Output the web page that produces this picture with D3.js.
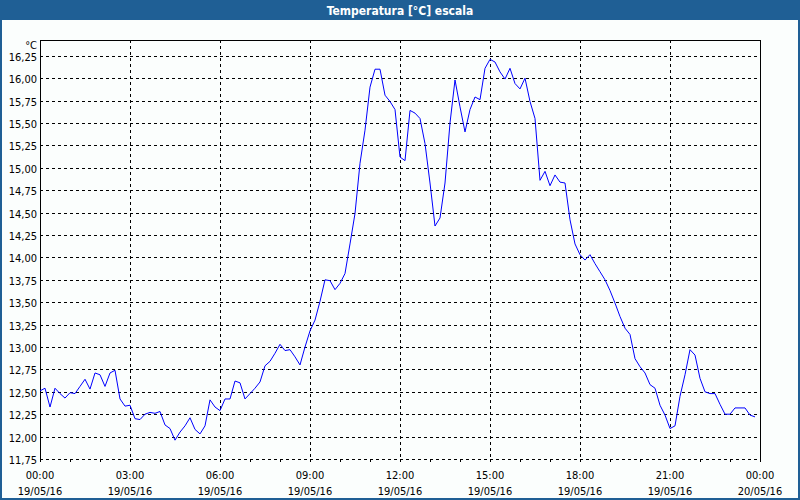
<!DOCTYPE html>
<html>
<head>
<meta charset="utf-8">
<script src="https://cdn.jsdelivr.net/npm/d3@7"></script>
<style>
  html, body { margin: 0; padding: 0; background: #fbfefd; }
  svg { display: block; }
  text { font-family: "DejaVu Sans Condensed", "DejaVu Sans", sans-serif; }
</style>
</head>
<body>
<svg id="chart" width="800" height="500"></svg>
<script>
// ---- data ----
const title = "Temperatura [°C] escala";
const unitLabel = "°C";
const startTime = "2016-05-19T00:00:00";
const stepMinutes = 10;
const temperature = [
  12.51, 12.54, 12.33, 12.54, 12.48, 12.43, 12.49, 12.48, 12.56, 12.64, 12.53, 12.71,
  12.69, 12.56, 12.71, 12.74, 12.42, 12.34, 12.35, 12.20, 12.19, 12.25, 12.27, 12.26,
  12.28, 12.13, 12.09, 11.96, 12.05, 12.12, 12.21, 12.08, 12.03, 12.12, 12.41, 12.33,
  12.29, 12.42, 12.42, 12.62, 12.60, 12.42, 12.48, 12.54, 12.61, 12.79, 12.84, 12.93,
  13.03, 12.96, 12.97, 12.89, 12.80, 13.00, 13.18, 13.30, 13.51, 13.75, 13.74, 13.64,
  13.71, 13.82, 14.15, 14.49, 15.05, 15.42, 15.90, 16.10, 16.10, 15.81, 15.74, 15.65,
  15.12, 15.08, 15.64, 15.61, 15.55, 15.27, 14.83, 14.35, 14.44, 14.83, 15.50, 15.98,
  15.68, 15.40, 15.65, 15.79, 15.76, 16.11, 16.21, 16.18, 16.07, 15.99, 16.11, 15.94,
  15.88, 16.00, 15.74, 15.55, 14.86, 14.96, 14.80, 14.92, 14.84, 14.83, 14.42, 14.15,
  14.03, 13.97, 14.03, 13.93, 13.84, 13.75, 13.63, 13.49, 13.34, 13.21, 13.14, 12.87,
  12.78, 12.71, 12.58, 12.54, 12.35, 12.24, 12.09, 12.12, 12.45, 12.69, 12.97, 12.91,
  12.65, 12.50, 12.48, 12.48, 12.36, 12.25, 12.25, 12.32, 12.32, 12.32, 12.24, 12.22
];
const yTicks = [11.75, 12.00, 12.25, 12.50, 12.75, 13.00, 13.25, 13.50, 13.75, 14.00,
                14.25, 14.50, 14.75, 15.00, 15.25, 15.50, 15.75, 16.00, 16.25];
const xTickTimes = ["00:00", "03:00", "06:00", "09:00", "12:00", "15:00", "18:00", "21:00", "00:00"];
const xTickDates = ["19/05/16", "19/05/16", "19/05/16", "19/05/16", "19/05/16", "19/05/16", "19/05/16", "19/05/16", "20/05/16"];

// ---- chart ----
const svg = d3.select("#chart");
const W = 800, H = 500;
const plot = { left: 40, right: 760, top: 40, bottom: 459 };
const blue = "#1f5f95";

const t0 = new Date(startTime);
const t1 = d3.timeDay.offset(t0, 1);
const data = temperature.map((v, i) => ({ t: d3.timeMinute.offset(t0, i * stepMinutes), v }));

const x = d3.scaleTime().domain([t0, t1]).range([plot.left, plot.right]);
const y = d3.scaleLinear().domain([11.75, 16.426]).range([plot.bottom, plot.top]);

// background + window frame
svg.append("rect").attr("width", W).attr("height", H).attr("fill", "#fbfefd");
svg.append("rect").attr("x", 0).attr("y", 0).attr("width", W).attr("height", 20).attr("fill", blue);
svg.append("rect").attr("x", 0).attr("y", 0).attr("width", 2).attr("height", H).attr("fill", blue);
svg.append("rect").attr("x", W - 2).attr("y", 0).attr("width", 2).attr("height", H).attr("fill", blue);
svg.append("rect").attr("x", 0).attr("y", H - 2).attr("width", W).attr("height", 2).attr("fill", blue);

svg.append("text").attr("x", W / 2).attr("y", 14.5).attr("text-anchor", "middle")
  .attr("fill", "#ffffff").attr("font-weight", "bold").attr("font-size", 12).text(title);

// horizontal grid
const grid = svg.append("g").attr("shape-rendering", "crispEdges");
grid.selectAll("line.h").data(yTicks).join("line").attr("class", "h")
  .attr("x1", plot.left).attr("x2", plot.right)
  .attr("y1", d => Math.round(y(d)) + 0.5).attr("y2", d => Math.round(y(d)) + 0.5)
  .attr("stroke", "#000").attr("stroke-dasharray", "3,3");

// vertical grid (every 3 hours)
const xMajor = d3.timeHour.every(3).range(t0, d3.timeMinute.offset(t1, 1));
grid.selectAll("line.v").data(xMajor.filter(d => +d !== +t0 && +d !== +t1)).join("line").attr("class", "v")
  .attr("x1", d => Math.round(x(d)) + 0.5).attr("x2", d => Math.round(x(d)) + 0.5)
  .attr("y1", plot.top).attr("y2", plot.bottom)
  .attr("stroke", "#000").attr("stroke-dasharray", "3,3");

// frame: left, top, right solid
grid.append("path")
  .attr("d", `M${plot.left + 0.5},${plot.bottom + 3}V${plot.top + 0.5}H${plot.right + 0.5}V${plot.bottom + 1}`)
  .attr("fill", "none").attr("stroke", "#000");

// hourly tick marks below the axis
const xMinor = d3.timeHour.every(1).range(t0, d3.timeMinute.offset(t1, 1));
grid.selectAll("line.tk").data(xMinor).join("line").attr("class", "tk")
  .attr("x1", d => Math.round(x(d)) + 0.5).attr("x2", d => Math.round(x(d)) + 0.5)
  .attr("y1", plot.bottom).attr("y2", plot.bottom + 3)
  .attr("stroke", "#000");

// y labels
svg.append("g").selectAll("text").data(yTicks).join("text")
  .attr("x", 37).attr("y", d => Math.round(y(d)) + 4.5)
  .attr("text-anchor", "end").attr("font-size", 11).attr("fill", "#000")
  .text(d => d3.format(".2f")(d).replace(".", ","));
svg.append("text").attr("x", 37).attr("y", 49).attr("text-anchor", "end")
  .attr("font-size", 11).attr("fill", "#000").text(unitLabel);

// x labels
const xl = svg.append("g");
xl.selectAll("text.tm").data(xMajor).join("text").attr("class", "tm")
  .attr("x", d => x(d)).attr("y", 479).attr("text-anchor", "middle")
  .attr("font-size", 11).attr("fill", "#000").text((d, i) => xTickTimes[i]);
xl.selectAll("text.dt").data(xMajor).join("text").attr("class", "dt")
  .attr("x", d => x(d)).attr("y", 495).attr("text-anchor", "middle")
  .attr("font-size", 11).attr("fill", "#000").text((d, i) => xTickDates[i]);

// series line
const line = d3.line().x(d => x(d.t)).y(d => y(d.v));
svg.append("path").datum(data).attr("d", line)
  .attr("fill", "none").attr("stroke", "#0000ff").attr("stroke-width", 1);
</script>
</body>
</html>
